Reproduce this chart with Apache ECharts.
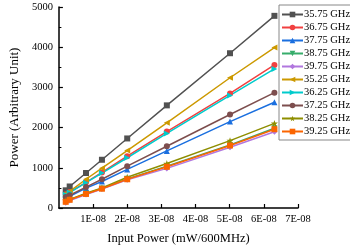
<!DOCTYPE html>
<html><head><meta charset="utf-8">
<script src="https://cdn.jsdelivr.net/npm/echarts@6/dist/echarts.min.js"></script>
<style>html,body{margin:0;padding:0;background:#fff}#c{width:350px;height:250px}</style>
</head><body><div id="c"></div>
<script>
const inputPower = [2.0e-9, 3.16e-9, 7.94e-9, 1.26e-8, 2.0e-8, 3.16e-8, 5.01e-8, 6.31e-8];
const seriesNames = ['35.75 GHz','36.75 GHz','37.75 GHz','38.75 GHz','39.75 GHz','35.25 GHz','36.25 GHz','37.25 GHz','38.25 GHz','39.25 GHz'];
const p3575 = [440, 535, 870, 1200, 1730, 2553, 3850, 4780];
const p3675 = [340, 395, 640, 885, 1290, 1900, 2850, 3560];
const p3775 = [251, 293, 495, 660, 960, 1420, 2150, 2630];
const p3875 = [165, 200, 355, 485, 725, 1040, 1570, 1985];
const p3975 = [130, 188, 335, 470, 700, 985, 1510, 1895];
const p3525 = [358, 415, 715, 990, 1430, 2120, 3240, 3990];
const p3625 = [328, 385, 630, 870, 1250, 1855, 2800, 3460];
const p3725 = [276, 317, 520, 715, 1040, 1535, 2325, 2870];
const p3825 = [188, 215, 370, 500, 765, 1105, 1675, 2105];
const p3925 = [154, 205, 350, 480, 715, 1025, 1555, 1960];
const seriesValues = [p3575, p3675, p3775, p3875, p3975, p3525, p3625, p3725, p3825, p3925];

const colors = ['#515151','#F14040','#1A6FDF','#37AD6B','#B177DE','#CC9900','#00CBCC','#7D4E4E','#8E8E00','#FB6501'];
const star = 'path://M0,-10 L2.35,-3.24 9.51,-3.09 3.8,1.24 5.88,8.09 0,4 -5.88,8.09 -3.8,1.24 -9.51,-3.09 -2.35,-3.24Z';
const symbols = ['rect','circle','triangle','triangle','diamond','triangle','triangle','circle',star,'rect'];
const rotates = [0,0,0,180,0,90,-90,0,0,0];
const sizes = [6,6,6,6,6,6,6,6,7,6];
const font = 'Liberation Serif';

const series = seriesNames.map((n,i)=>({
  name:n, type:'line', data: inputPower.map((x,j)=>[x, seriesValues[i][j]]),
  symbol: symbols[i], symbolRotate: rotates[i], symbolSize: sizes[i],
  lineStyle:{width:1.5, color:colors[i]}, itemStyle:{color:colors[i]},
  emphasis:{disabled:true}, animation:false
}));

const chart = echarts.init(document.getElementById('c'), null, {renderer:'canvas'});
chart.setOption({
  animation:false,
  color: colors,
  grid:{left:44, right:52, top:7, bottom:38, containLabel:false},
  legend:{
    orient:'vertical', left:279, top:5, width:70,
    data: seriesNames,
    itemWidth:21, itemHeight:7, itemGap:2,
    padding:[4,2,3,2],
    borderColor:'#888', borderWidth:1, backgroundColor:'#fff',
    textStyle:{fontFamily:font, fontSize:10.5, color:'#000', padding:[0,0,0,-4]}
  },
  xAxis:{
    type:'value', min:0, max:7e-8, interval:1e-8,
    name:'Input Power (mW/600MHz)', nameLocation:'middle', nameGap:24,
    nameTextStyle:{fontFamily:font, fontSize:12.5, color:'#000'},
    axisLine:{show:true, lineStyle:{color:'#000', width:1.5}},
    axisTick:{show:true, inside:true, length:4, lineStyle:{color:'#000', width:1.2}},
    axisLabel:{showMinLabel:false, fontFamily:font, fontSize:10.5, color:'#000', margin:6,
      formatter:v=>Math.round(v*1e8)+'E-08'},
    splitLine:{show:false}
  },
  yAxis:{
    type:'value', min:0, max:5000, interval:1000,
    name:'Power (Arbitrary Unit)', nameLocation:'middle', nameGap:28,
    nameTextStyle:{fontFamily:font, fontSize:13, color:'#000'},
    axisLine:{show:true, lineStyle:{color:'#000', width:1.5}},
    axisTick:{show:true, inside:true, length:4, lineStyle:{color:'#000', width:1.2}},
    minorTick:{show:true, splitNumber:2, length:2.5, lineStyle:{color:'#000', width:1}},
    axisLabel:{fontFamily:font, fontSize:10.5, color:'#000', margin:6, formatter:v=>String(v)},
    splitLine:{show:false}
  },
  series: series
});
</script></body></html>
